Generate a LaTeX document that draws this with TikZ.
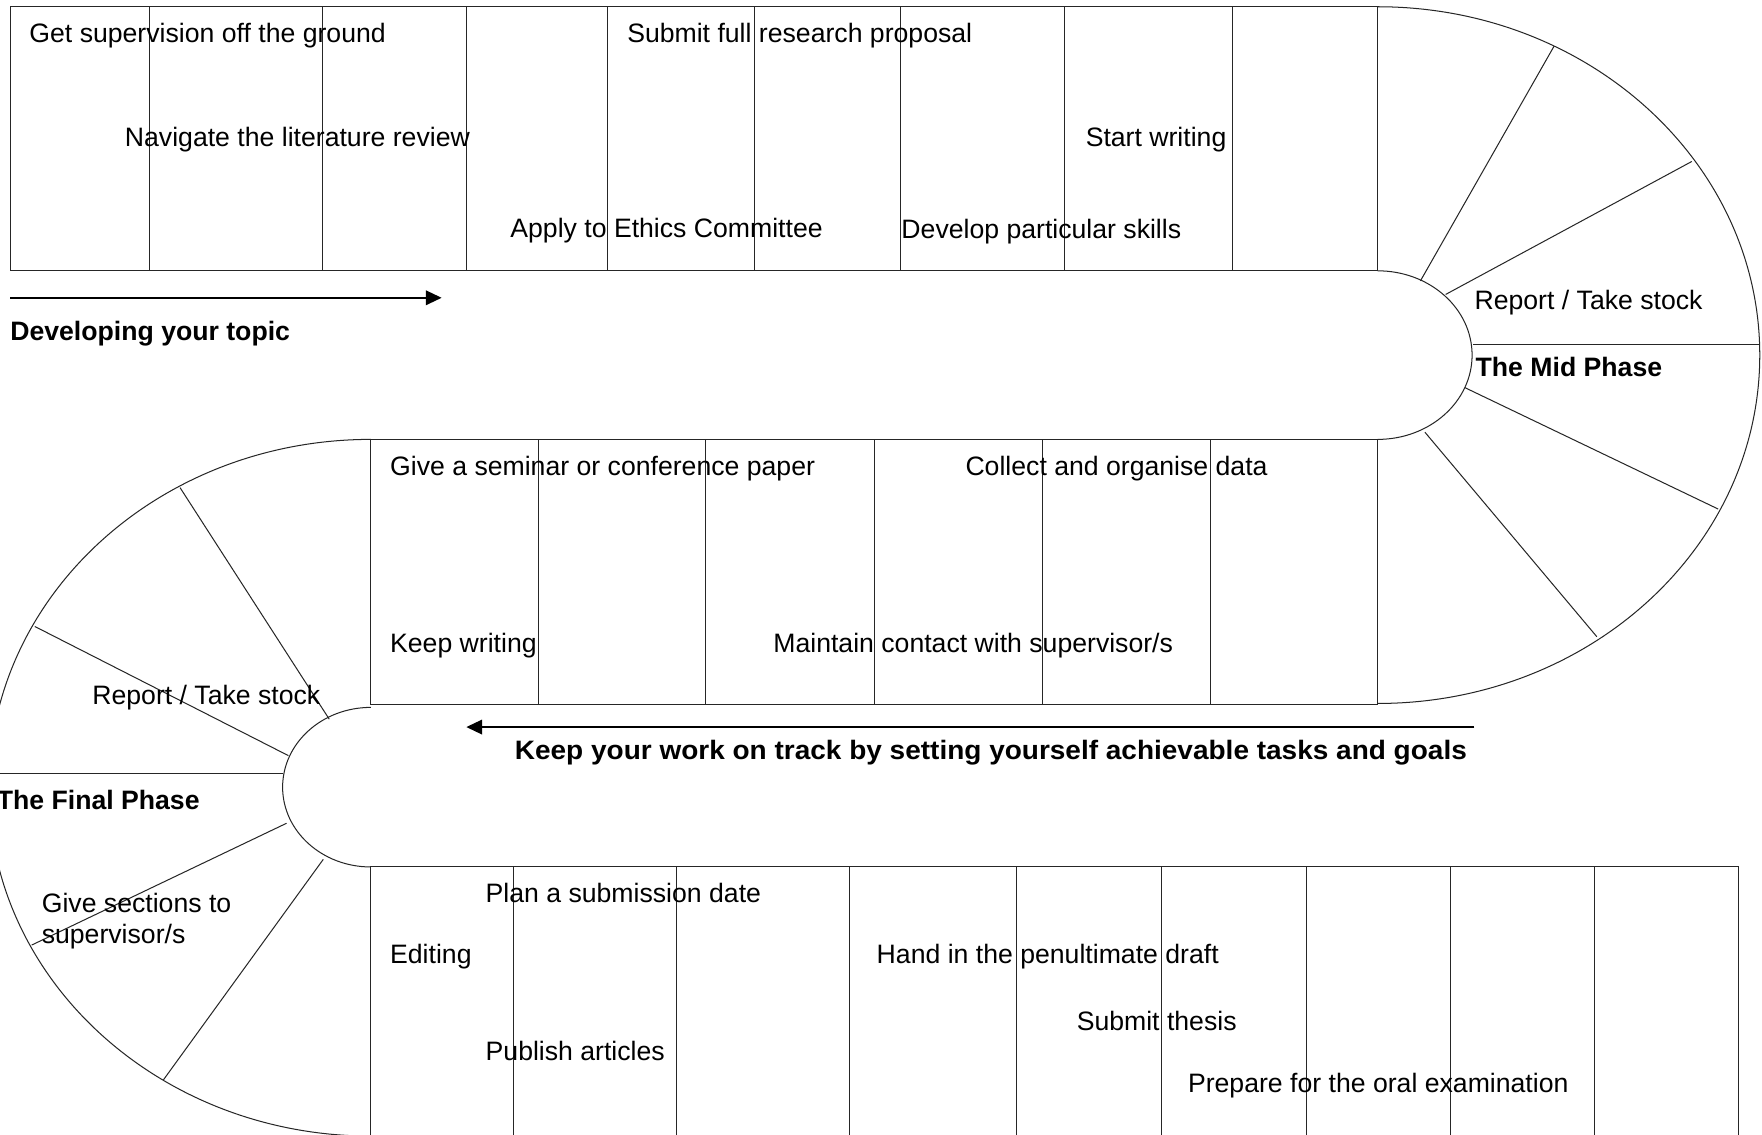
\documentclass[tikz,border=0pt]{standalone}
\usepackage{fontspec}
\setmainfont{Liberation Sans}
\usetikzlibrary{arrows.meta}
\begin{document}
\begin{tikzpicture}[x=1pt,y=1pt,
  ln/.style={draw=black!85, line width=0.9pt},
  lbl/.style={anchor=base west, inner sep=0pt, font=\fontsize{23.7}{28}\selectfont},
  blbl/.style={anchor=base west, inner sep=0pt, font=\fontsize{23.7}{28}\selectfont\bfseries},
  arr/.style={draw=black, line width=1.3pt, -{Triangle[length=14pt,width=13pt]}}]
\clip (0,0) rectangle (1568,-1010);
\fill[white] (0,0) rectangle (1568,-1010);
% top strip
\draw[ln] (9,-6) rectangle (1226,-241);
\foreach \x in {133,287,415,541,671,801,947,1097} \draw[ln] (\x,-6) -- (\x,-241);
% right half ellipses
\draw[ln] (1226,-6) arc[start angle=90,end angle=-90,x radius=340pt,y radius=310pt];
\draw[ln] (1226,-241) arc[start angle=90,end angle=-90,x radius=84pt,y radius=75pt];
\draw[ln] (1264,-250) -- (1383,-41);
\draw[ln] (1286.5,-262) -- (1505.5,-143.7);
\draw[ln] (1311,-307) -- (1566,-307);
\draw[ln] (1303.7,-345) -- (1529,-453);
\draw[ln] (1268,-384.6) -- (1421,-566.6);
% middle strip
\draw[ln] (330,-391) rectangle (1226,-627);
\foreach \x in {479,628,778,928,1077} \draw[ln] (\x,-391) -- (\x,-627);
% left half ellipses
\draw[ln] (330,-391) arc[start angle=90,end angle=270,x radius=340pt,y radius=310pt];
\draw[ln] (330,-629.5) arc[start angle=90,end angle=270,x radius=78.5pt,y radius=71pt];
\draw[ln] (160.2,-433.9) -- (293,-640);
\draw[ln] (31,-557.5) -- (256.6,-672.4);
\draw[ln] (-2,-688.7) -- (251.6,-688.7);
\draw[ln] (255,-732.6) -- (28.2,-841);
\draw[ln] (287.7,-764.7) -- (145.4,-961);
% bottom strip
\draw[ln] (330,-1015) -- (330,-771) -- (1547,-771) -- (1547,-1015);
\foreach \x in {457,602,756,905,1034,1163,1291,1419} \draw[ln] (\x,-771) -- (\x,-1015);
% arrows
\coordinate (a1s) at (9,-265);
\coordinate (a1e) at (393,-265);
\draw[arr] (a1s) -- (a1e);
\coordinate (a2s) at (1312,-647);
\coordinate (a2e) at (415,-647);
\draw[arr] (a2s) -- (a2e);
% labels top
\node[lbl] (t1) at (26,-37.7) {Get supervision off the ground};
\node[lbl] (t2) at (111,-130.5) {Navigate the literature review};
\node[lbl] (t3) at (454,-211.5) {Apply to Ethics Committee};
\node[lbl] (t4) at (558,-37.5) {Submit full research proposal};
\node[lbl] (t5) at (966,-130.5) {Start writing};
\node[lbl] (t6) at (802,-212) {Develop particular skills};
\node[blbl] (t7) at (9,-302.6) {Developing your topic};
% right
\node[lbl] (r1) at (1312,-275) {Report / Take stock};
\node[blbl] (r2) at (1313,-335) {The Mid Phase};
% middle
\node[lbl] (m1) at (347,-423) {Give a seminar or conference paper};
\node[lbl] (m2) at (859,-423) {Collect and organise data};
\node[lbl] (m3) at (347,-581) {Keep writing};
\node[lbl] (m4) at (688,-581) {Maintain contact with supervisor/s};
\node[blbl] (m5) at (458,-676) {\scalebox{1.051}[1]{Keep your work on track by setting yourself achievable tasks and goals}};
% left
\node[lbl] (l1) at (82,-627) {Report / Take stock};
\node[blbl] (l2) at (-3,-720) {The Final Phase};
\node[lbl] (l3) at (37,-812) {Give sections to};
\node[lbl] (l4) at (37,-840) {supervisor/s};
% bottom
\node[lbl] (b1) at (347,-857) {Editing};
\node[lbl] (b2) at (432,-803) {Plan a submission date};
\node[lbl] (b3) at (432,-944) {Publish articles};
\node[lbl] (b4) at (780,-857) {Hand in the penultimate draft};
\node[lbl] (b5) at (958,-917) {Submit thesis};
\node[lbl] (b6) at (1057,-972) {Prepare for the oral examination};
\end{tikzpicture}
\end{document}
